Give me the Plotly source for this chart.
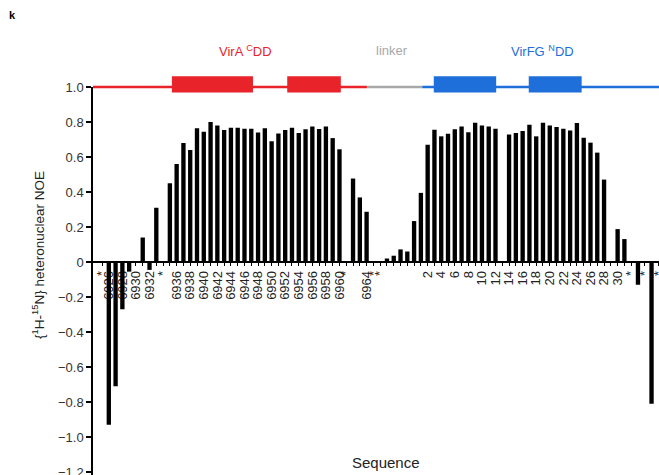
import plotly.graph_objects as go

# ---------------- data ----------------
# VirA C-terminal docking domain residues (slot labels, "" = unlabeled, "*" = no data)
vira_labels = ["*", "6926", "", "6928", "", "6930", "", "6932", "", "*",
               "", "6936", "", "6938", "", "6940", "", "6942", "", "6944",
               "", "6946", "", "6948", "", "6950", "", "6952", "", "6954",
               "", "6956", "", "6958", "", "6960", "*", "", "", "6964",
               "*", "*"]
vira_noe = [None, -0.93, -0.71, -0.27, -0.055, None, 0.14, -0.045, 0.31, None,
            0.45, 0.56, 0.68, 0.64, 0.765, 0.745, 0.80, 0.78, 0.755, 0.767,
            0.767, 0.762, 0.762, 0.74, 0.765, 0.69, 0.735, 0.755, 0.767, 0.737,
            0.758, 0.775, 0.76, 0.775, 0.708, 0.644, None, 0.477, 0.369, 0.287,
            None, None]
# linker
linker_labels = ["", "", "", "", "", ""]
linker_noe = [0.02, 0.036, 0.072, 0.06, 0.234, 0.395]
# VirFG N-terminal docking domain
virfg_labels = ["2", "", "4", "", "6", "", "8", "", "10", "", "12", "", "14", "",
                "16", "", "18", "", "20", "", "22", "", "24", "", "26", "", "28", "",
                "30", "", "*", "", "*", "", "*"]
virfg_noe = [0.67, 0.756, 0.718, 0.733, 0.758, 0.775, 0.742, 0.796, 0.78, 0.775,
             0.762, None, 0.729, 0.737, 0.748, 0.785, 0.718, 0.796, 0.78, 0.771,
             0.762, 0.752, 0.794, 0.71, 0.682, 0.625, 0.471, None, 0.188, 0.131,
             None, -0.13, None, -0.81, None]

tick_labels = vira_labels + linker_labels + virfg_labels
noe_values = vira_noe + linker_noe + virfg_noe
positions = list(range(len(tick_labels)))

y_ticks = [1.0, 0.8, 0.6, 0.4, 0.2, 0, -0.2, -0.4, -0.6, -0.8, -1.0, -1.2]
y_ticktext = ["1.0", "0.8", "0.6", "0.4", "0.2", "0", "\u22120.2", "\u22120.4",
              "\u22120.6", "\u22120.8", "\u22121.0", "\u22121.2"]

# domain diagram (in slot units)
X_MIN, X_MAX = -1.33, 82.1
Y_MIN, Y_MAX = -1.217, 1.0
RED, GRAY, BLUE = "#E8232A", "#A8A8A8", "#1E6FD9"
backbone = [(X_MIN, 39.05, RED), (39.05, 47.2, GRAY), (47.2, X_MAX + 1, BLUE)]
helices = [(10.3, 22.25, RED), (27.3, 35.2, RED), (48.9, 58.1, BLUE), (62.9, 70.7, BLUE)]
domain_text = [(21.2, "VirA <sup>C</sup>DD", RED), (42.7, "linker", GRAY),
               (65.0, "VirFG <sup>N</sup>DD", BLUE)]

FONT = "Liberation Sans, Arial, Helvetica, sans-serif"

fig = go.Figure()
fig.add_trace(go.Bar(x=positions, y=noe_values, width=0.64,
                     marker=dict(color="#000000", line=dict(width=0)),
                     showlegend=False, hoverinfo="skip"))

zero_frac = (0 - Y_MIN) / (Y_MAX - Y_MIN)

shapes = []
for x0, x1, c in backbone:
    shapes.append(dict(type="line", xref="x", yref="paper", x0=x0, x1=x1, y0=1.0, y1=1.0,
                       line=dict(color=c, width=2.5), layer="above"))
for x0, x1, c in helices:
    shapes.append(dict(type="rect", xref="x", yref="paper", x0=x0, x1=x1, y0=0.986, y1=1.028,
                       fillcolor=c, line=dict(width=0), layer="above"))

annotations = []
for xc, t, c in domain_text:
    annotations.append(dict(x=xc, y=1.0928, xref="x", yref="paper", text=t, showarrow=False,
                            font=dict(family=FONT, size=13, color=c),
                            xanchor="center", yanchor="middle"))
annotations.append(dict(x=-0.143, y=1.1856, xref="paper", yref="paper", text="<b>k</b>",
                        showarrow=False, font=dict(family=FONT, size=11, color="#000"),
                        xanchor="center", yanchor="middle"))
annotations.append(dict(x=0.5177, y=0.031, xref="paper", yref="paper", text="Sequence",
                        showarrow=False, font=dict(family=FONT, size=15, color="#222"),
                        xanchor="center", yanchor="middle"))
annotations.append(dict(x=-0.0972, y=0.567, xref="paper", yref="paper",
                        text="{<sup>1</sup>H-<sup>15</sup>N} heteronuclear NOE",
                        showarrow=False, textangle=-90,
                        font=dict(family=FONT, size=13.5, color="#222"),
                        xanchor="center", yanchor="middle"))

fig.update_layout(
    template="none",
    width=659, height=475,
    margin=dict(l=93, r=0, t=87, b=0, pad=0, autoexpand=False),
    paper_bgcolor="white", plot_bgcolor="white",
    bargap=0.3,
    shapes=shapes, annotations=annotations,
    xaxis=dict(range=[X_MIN, X_MAX], anchor="free", position=zero_frac, automargin=False,
               tickmode="array", tickvals=positions, ticktext=tick_labels,
               tickangle=-90, ticks="outside", ticklen=3, tickwidth=1, tickcolor="#000",
               showline=True, linecolor="#000", linewidth=1.5,
               showgrid=False, zeroline=False, layer="below traces",
               ticklabeloverflow="allow",
               tickfont=dict(family=FONT, size=13, color="#222")),
    yaxis=dict(range=[Y_MIN, Y_MAX], tickmode="array", tickvals=y_ticks, ticktext=y_ticktext,
               automargin=False, ticklabeloverflow="allow",
               ticks="outside", ticklen=5, tickwidth=1.5, tickcolor="#000",
               showline=True, linecolor="#000", linewidth=1.5,
               showgrid=False, zeroline=False,
               tickfont=dict(family=FONT, size=13, color="#333")),
)

page_css = ("document.documentElement.style.margin='0';"
            "document.documentElement.style.overflow='hidden';"
            "document.body.style.margin='0';"
            "document.body.style.padding='0';"
            "document.body.style.overflow='hidden';")
fig.write_html("out.html", post_script=page_css, config={"displayModeBar": False})
